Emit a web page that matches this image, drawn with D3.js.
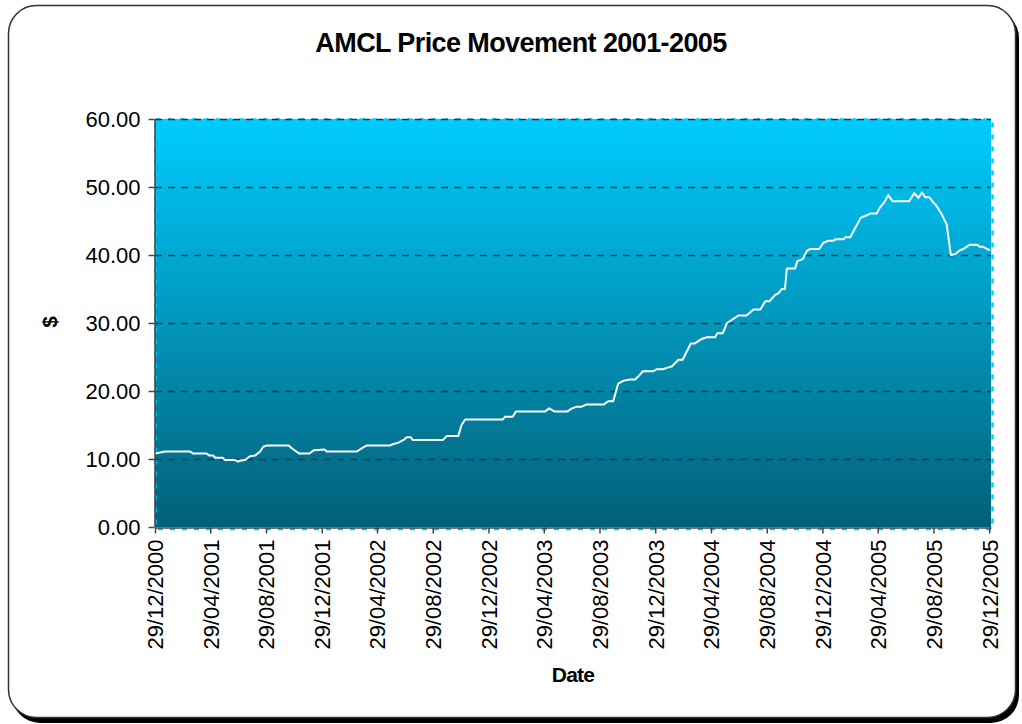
<!DOCTYPE html>
<html>
<head>
<meta charset="utf-8">
<script src="https://cdn.jsdelivr.net/npm/d3@7"></script>
<style>
  body { margin: 0; background: #fff; }
  svg { display: block; font-family: "Liberation Sans", Arial, sans-serif; }
</style>
</head>
<body>
<script>
  // AMCL closing price
  let dates = [
    "2000-12-29", "2001-01-20", "2001-03-16", "2001-03-22", "2001-04-21", "2001-04-27",
    "2001-05-06", "2001-05-09", "2001-05-26", "2001-05-31", "2001-06-22", "2001-06-29",
    "2001-07-03", "2001-07-14", "2001-07-25", "2001-08-05", "2001-08-16", "2001-08-23",
    "2001-08-31", "2001-10-17", "2001-10-28", "2001-11-10", "2001-12-02", "2001-12-12",
    "2002-01-04", "2002-01-09", "2002-03-16", "2002-03-27", "2002-04-07", "2002-05-28",
    "2002-06-04", "2002-06-15", "2002-06-26", "2002-07-03", "2002-07-12", "2002-07-16",
    "2002-09-20", "2002-09-29", "2002-10-24", "2002-10-31", "2002-11-08", "2003-01-29",
    "2003-02-03", "2003-02-20", "2003-02-27", "2003-05-02", "2003-05-11", "2003-05-22",
    "2003-06-20", "2003-06-29", "2003-07-10", "2003-07-21", "2003-07-31", "2003-09-07",
    "2003-09-17", "2003-09-28", "2003-10-09", "2003-10-20", "2003-11-04", "2003-11-15",
    "2003-11-24", "2003-12-02", "2003-12-25", "2004-01-01", "2004-01-15", "2004-01-23",
    "2004-02-03", "2004-02-18", "2004-02-27", "2004-03-07", "2004-03-16", "2004-03-25",
    "2004-04-07", "2004-04-20", "2004-05-08", "2004-05-13", "2004-05-25", "2004-06-03",
    "2004-06-17", "2004-06-28", "2004-07-16", "2004-07-31", "2004-08-15", "2004-08-26",
    "2004-09-04", "2004-09-16", "2004-09-24", "2004-10-01", "2004-10-08", "2004-10-12",
    "2004-10-30", "2004-11-04", "2004-11-16", "2004-11-25", "2004-12-02", "2004-12-22",
    "2004-12-31", "2005-01-11", "2005-01-22", "2005-01-26", "2005-02-13", "2005-02-17",
    "2005-02-28", "2005-03-11", "2005-03-23", "2005-04-04", "2005-04-12", "2005-04-27",
    "2005-05-04", "2005-05-13", "2005-05-22", "2005-06-01", "2005-07-07", "2005-07-18",
    "2005-07-27", "2005-08-04", "2005-08-11", "2005-08-20", "2005-08-29", "2005-09-04",
    "2005-09-16", "2005-09-27", "2005-10-06", "2005-10-15", "2005-10-26", "2005-11-03",
    "2005-11-16", "2005-12-03", "2005-12-08", "2005-12-16", "2005-12-27", "2005-12-31"
  ];
  let prices = [
    10.8, 11.1, 11.1, 10.8, 10.8, 10.5,
    10.5, 10.2, 10.2, 9.85, 9.85, 9.6,
    9.75, 9.85, 10.4, 10.5, 11.1, 11.8,
    12.0, 12.0, 11.4, 10.8, 10.8, 11.3,
    11.4, 11.1, 11.1, 11.6, 12.0, 12.0,
    12.2, 12.4, 12.8, 13.2, 13.2, 12.8,
    12.8, 13.4, 13.4, 15.0, 15.8, 15.8,
    16.2, 16.2, 17.0, 17.0, 17.45, 17.0,
    17.0, 17.4, 17.7, 17.7, 18.0, 18.0,
    18.5, 18.5, 21.1, 21.5, 21.7, 21.7,
    22.3, 22.9, 22.9, 23.2, 23.2, 23.4,
    23.6, 24.6, 24.6, 25.8, 27.0, 27.0,
    27.6, 27.9, 27.9, 28.5, 28.5, 30.0,
    30.6, 31.1, 31.1, 32.0, 32.0, 33.2,
    33.2, 34.1, 34.4, 35.0, 35.0, 38.0,
    38.0, 39.1, 39.4, 40.6, 40.9, 40.9,
    41.8, 42.1, 42.1, 42.3, 42.3, 42.6,
    42.6, 44.0, 45.5, 45.8, 46.1, 46.1,
    47.0, 47.7, 48.8, 47.9, 47.9, 49.1,
    48.4, 49.2, 48.5, 48.5, 47.7, 47.3,
    46.0, 44.5, 40.0, 40.1, 40.7, 40.9,
    41.5, 41.5, 41.2, 41.2, 40.8, 40.7
  ];
  let tickDates = [
    "2000-12-29", "2001-04-29", "2001-08-29", "2001-12-29", "2002-04-29", "2002-08-29",
    "2002-12-29", "2003-04-29", "2003-08-29", "2003-12-29", "2004-04-29", "2004-08-29",
    "2004-12-29", "2005-04-29", "2005-08-29", "2005-12-29"
  ];
  let yTicks = [0, 10, 20, 30, 40, 50, 60];

(function() {
  let parseDate = d3.timeParse("%Y-%m-%d");
  let fmtDate = d3.timeFormat("%d/%m/%Y");

  let svg = d3.select("body").append("svg")
    .attr("width", 1022)
    .attr("height", 724);

  // outer frame with shadow
  svg.append("rect")
    .attr("x", 12).attr("y", 10)
    .attr("width", 1007).attr("height", 713)
    .attr("rx", 28).attr("ry", 28)
    .attr("fill", "#000");
  svg.append("rect")
    .attr("x", 8.5).attr("y", 5.5)
    .attr("width", 1007).attr("height", 712)
    .attr("rx", 28).attr("ry", 28)
    .attr("fill", "#fff")
    .attr("stroke", "#333")
    .attr("stroke-width", 1.5);

  let plotL = 155, plotR = 991, plotT = 119, plotB = 527;

  let xScale = d3.scaleTime()
    .domain([parseDate("2000-12-29"), parseDate("2006-01-02")])
    .range([plotL, plotR]);
  let yScale = d3.scaleLinear()
    .domain([0, 60])
    .range([plotB, plotT]);

  let defs = svg.append("defs");
  let grad = defs.append("linearGradient")
    .attr("id", "bg")
    .attr("x1", 0).attr("y1", 0).attr("x2", 0).attr("y2", 1);
  grad.append("stop").attr("offset", "0%").attr("stop-color", "#00ccff");
  grad.append("stop").attr("offset", "100%").attr("stop-color", "#035f77");

  // plot area
  svg.append("rect")
    .attr("x", plotL).attr("y", plotT)
    .attr("width", plotR - plotL).attr("height", plotB - plotT)
    .attr("fill", "url(#bg)");

  // plot area dashed border
  svg.append("rect")
    .attr("x", plotL + 0.5).attr("y", plotT + 0.5)
    .attr("width", plotR - plotL + 1).attr("height", plotB - plotT + 1.5)
    .attr("fill", "none")
    .attr("stroke", "#00ccff")
    .attr("stroke-width", 2.5)
    .attr("stroke-dasharray", "5,7");

  // gridlines
  svg.append("g")
    .selectAll("line")
    .data(yTicks.filter((d) => d > 0))
    .enter()
    .append("line")
      .attr("x1", plotL).attr("x2", plotR)
      .attr("y1", (d) => yScale(d) + 0.5)
      .attr("y2", (d) => yScale(d) + 0.5)
      .attr("stroke", "#173a48")
      .attr("stroke-width", 1.5)
      .attr("stroke-dasharray", "7,6");

  // price line
  let series = dates.map((d, i) => ({ date: parseDate(d), price: prices[i] }));
  let line = d3.line()
    .x((d) => xScale(d.date))
    .y((d) => yScale(d.price));
  svg.append("path")
    .datum(series)
    .attr("d", line)
    .attr("fill", "none")
    .attr("stroke", "#fff")
    .attr("stroke-width", 2)
    .attr("stroke-linejoin", "round");

  // y axis
  let yAxis = d3.axisLeft(yScale)
    .tickValues(yTicks)
    .tickFormat(d3.format(".2f"))
    .tickSizeInner(6)
    .tickSizeOuter(0)
    .tickPadding(8);
  let gy = svg.append("g")
    .attr("transform", "translate(" + (plotL - 0.5) + ",0)")
    .call(yAxis);
  gy.select(".domain").attr("stroke", "#444").attr("stroke-width", 1.5);
  gy.selectAll(".tick line").attr("stroke", "#444").attr("stroke-width", 1.5);
  gy.selectAll("text")
    .attr("fill", "#000")
    .style("font-size", "22px");

  // x axis
  let xAxis = d3.axisBottom(xScale)
    .tickValues(tickDates.map(parseDate))
    .tickFormat(fmtDate)
    .tickSizeInner(6)
    .tickSizeOuter(0);
  let gx = svg.append("g")
    .attr("transform", "translate(0," + (plotB + 0.5) + ")")
    .call(xAxis);
  gx.select(".domain").attr("stroke", "#444").attr("stroke-width", 1.5);
  gx.selectAll(".tick line").attr("stroke", "#444").attr("stroke-width", 1.5);
  gx.selectAll("text")
    .attr("fill", "#000")
    .style("font-size", "22px")
    .attr("text-anchor", "end")
    .attr("dy", "0.36em")
    .attr("transform", "translate(0,12) rotate(-90)")
    .attr("x", 0)
    .attr("y", 0);

  // labels
  svg.append("text")
    .attr("x", 521)
    .attr("y", 52)
    .attr("text-anchor", "middle")
    .style("font-size", "27px")
    .style("font-weight", "bold")
    .style("letter-spacing", "-0.6px")
    .text("AMCL Price Movement 2001-2005");

  svg.append("text")
    .attr("x", 573)
    .attr("y", 682)
    .attr("text-anchor", "middle")
    .style("font-size", "21px")
    .style("font-weight", "bold")
    .style("letter-spacing", "-0.8px")
    .text("Date");

  svg.append("text")
    .attr("transform", "translate(57, 322) rotate(-90)")
    .attr("text-anchor", "middle")
    .style("font-size", "21px")
    .style("font-weight", "bold")
    .text("$");
})();
</script>
</body>
</html>
